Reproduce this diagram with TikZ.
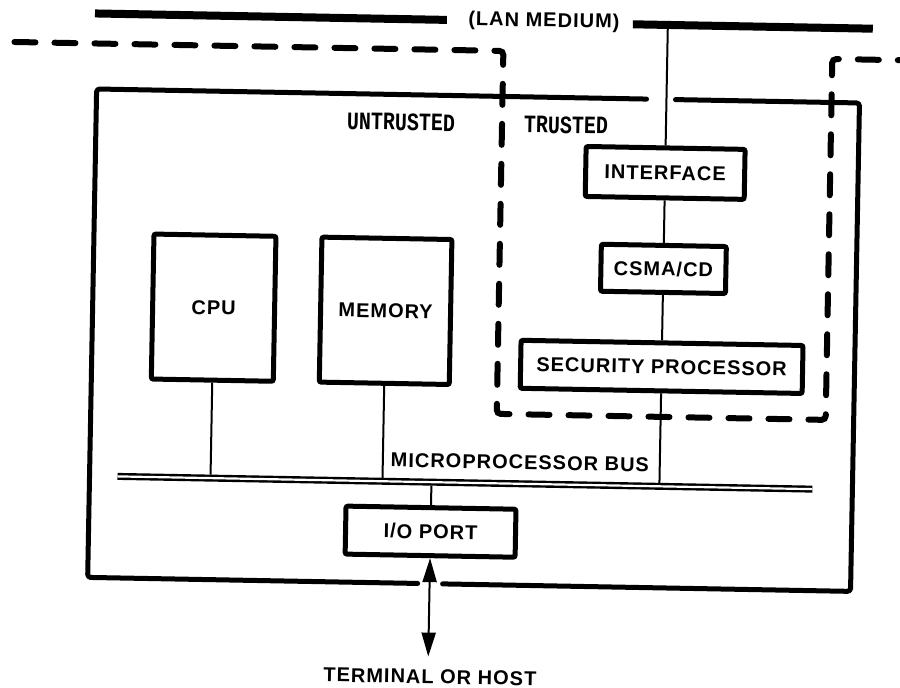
\documentclass[tikz,border=0pt]{standalone}
\usepackage{fontspec}
\setmainfont{Liberation Sans}
\newfontfamily\labfont{Liberation Sans}[LetterSpace=5]
\newfontfamily\typefont{Liberation Mono}
\usetikzlibrary{arrows.meta}
\tikzset{
  lab/.style={inner sep=0pt, font=\labfont\bfseries\fontsize{20}{22}\selectfont},
  box/.style={lab, draw, line width=5pt, rounded corners=2pt},
  monolab/.style={inner sep=0pt, font=\typefont\bfseries\fontsize{20}{22}\selectfont},
  wire/.style={line width=2pt},
  lanline/.style={line width=8pt},
  mainbox/.style={line width=5pt, rounded corners=3pt, line cap=round, line join=round},
  trust/.style={line width=6pt, line cap=round, rounded corners=4pt, dash pattern=on 21pt off 19pt},
  bus/.style={line width=2.4pt, double, double distance=2.2pt},
  twoway/.style={{Triangle[length=24pt,width=14pt]}-{Triangle[length=24pt,width=14pt]}}
}
\begin{document}
\begin{tikzpicture}[x=1pt,y=-1pt]
\useasboundingbox (0,0) rectangle (900,688);
\fill[white] (0,0) rectangle (900,688);
\begin{scope}[rotate around={-1.05:(450,344)}, transform shape]
  % LAN medium
  \node[lab] (lan) at (538,20) {(LAN MEDIUM)};
  \coordinate (lanL1) at (89,20);
  \coordinate (lanL2) at (441,20);
  \coordinate (lanR1) at (627,21);
  \coordinate (lanR2) at (867,21);
  \coordinate (laptap) at (662,21);
  \draw[lanline] (lanL1) -- (lanL2);
  \draw[lanline] (lanR1) -- (lanR2);

  % trusted boundary (dashed)
  \draw[trust] (9,50) -- (498,50) -- (498,413) -- (827,413) -- (827,52) -- (910,52);

  % main enclosure
  \draw[mainbox] (642,95.5) -- (92,95.5) -- (92,584) -- (422,584);
  \draw[mainbox] (447,584) -- (855,584) -- (855,95.5) -- (671,95.5);

  % region labels
  \node[monolab] (untr) at (397,123) {\scalebox{1}[1.25]{UNTRUSTED}};
  \node[monolab] (tr) at (562,123) {\scalebox{1}[1.25]{TRUSTED}};

  % boxes
  \node[box, minimum width=159, minimum height=50] (iface) at (662,169) {INTERFACE};
  \node[box, minimum width=125, minimum height=47] (csma) at (662,265) {CSMA/CD};
  \node[box, minimum width=282, minimum height=48] (sec) at (662,363) {SECURITY PROCESSOR};
  \node[box, minimum width=122, minimum height=145] (cpu) at (213,312) {CPU};
  \node[box, minimum width=130, minimum height=145] (mem) at (385,312) {MEMORY};
  \node[box, minimum width=170, minimum height=48] (io) at (434,532) {I/O PORT};

  % bus
  \coordinate (busL) at (120,482.5);
  \coordinate (busR) at (815,482.5);
  \draw[bus] (busL) -- (busR);
  \node[lab] (busname) at (522,461) {MICROPROCESSOR BUS};
  \coordinate (tapcpu) at (213,479);
  \coordinate (tapmem) at (385,479);
  \coordinate (tapsec) at (662,479);
  \coordinate (tapio) at (434,486);

  % connectors
  \draw[wire] (laptap) -- (iface.north);
  \draw[wire] (iface) -- (csma);
  \draw[wire] (csma) -- (sec);
  \draw[wire] (sec.south) -- (tapsec);
  \draw[wire] (cpu.south) -- (tapcpu);
  \draw[wire] (mem.south) -- (tapmem);
  \draw[wire] (tapio) -- (io.north);

  % terminal
  \node[lab] (term) at (436,677) {TERMINAL OR HOST};
  \coordinate (termtip) at (434,657);
  \draw[wire, twoway] (io.south) -- (termtip);
\end{scope}
\end{tikzpicture}
\end{document}
